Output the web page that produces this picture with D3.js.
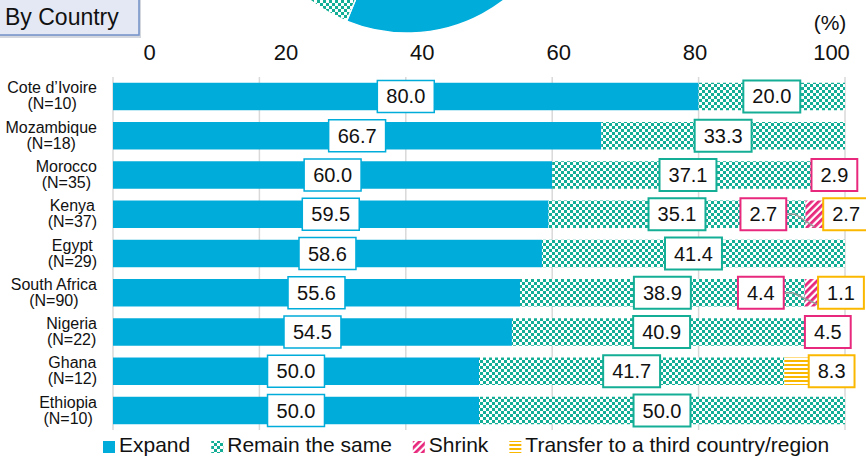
<!DOCTYPE html>
<html>
<head>
<meta charset="utf-8">
<script src="https://cdn.jsdelivr.net/npm/d3@7"></script>
<style>
    body { margin: 0; background: #fff; }
    svg { display: block; font-family: "Liberation Sans", Arial, sans-serif; }
</style>
</head>
<body>
<svg id="chart" width="866" height="457"></svg>
<script>
const countries = ["Cote d’Ivoire", "Mozambique", "Morocco", "Kenya", "Egypt", "South Africa", "Nigeria", "Ghana", "Ethiopia"];
const sampleSizes = [10, 18, 35, 37, 29, 90, 22, 12, 10];
const expand   = [80.0, 66.7, 60.0, 59.5, 58.6, 55.6, 54.5, 50.0, 50.0];
const remain   = [20.0, 33.3, 37.1, 35.1, 41.4, 38.9, 40.9, 41.7, 50.0];
const shrink   = [0, 0, 2.9, 2.7, 0, 4.4, 4.5, 0, 0];
const transfer = [0, 0, 0, 2.7, 0, 1.1, 0, 8.3, 0];
const seriesNames = ["Expand", "Remain the same", "Shrink", "Transfer to a third country/region"];
const xTicks = [0, 20, 40, 60, 80, 100];
// overall pie shown cut off at the top of the picture
const overall = [56.2, 39.0, 3.1, 1.7];

const BLUE = '#00acda';
const TEAL = '#14ad95';
const PINK = '#e8287c';
const ORANGE = '#fbb800';

const width = 866, height = 457;
const svg = d3.select('#chart');
const defs = svg.append('defs');

// patterns
const checker = defs.append('pattern').attr('id', 'checker')
    .attr('patternUnits', 'userSpaceOnUse').attr('width', 6).attr('height', 6);
checker.append('rect').attr('width', 6).attr('height', 6).attr('fill', '#fff');
checker.append('rect').attr('width', 3).attr('height', 3).attr('fill', TEAL);
checker.append('rect').attr('x', 3).attr('y', 3).attr('width', 3).attr('height', 3).attr('fill', TEAL);

const diag = defs.append('pattern').attr('id', 'diag')
    .attr('patternUnits', 'userSpaceOnUse').attr('width', 5).attr('height', 5)
    .attr('patternTransform', 'rotate(45)');
diag.append('rect').attr('width', 5).attr('height', 5).attr('fill', '#fff');
diag.append('rect').attr('width', 2.8).attr('height', 5).attr('fill', PINK);

const hline = defs.append('pattern').attr('id', 'hline')
    .attr('patternUnits', 'userSpaceOnUse').attr('width', 4).attr('height', 4);
hline.append('rect').attr('width', 4).attr('height', 4).attr('fill', '#fff');
hline.append('rect').attr('width', 4).attr('height', 2).attr('fill', ORANGE);

const keys = ['expand', 'remain', 'shrink', 'transfer'];
const fills = [BLUE, 'url(#checker)', 'url(#diag)', 'url(#hline)'];
const borders = [BLUE, TEAL, PINK, ORANGE];

// pie remnant
const pieData = d3.pie().sort(null).value(d => d)(overall);
const arc = d3.arc().innerRadius(0).outerRadius(159);
svg.append('g')
    .attr('transform', 'translate(407,-126)')
    .selectAll('path')
    .data(pieData)
    .enter()
    .append('path')
    .attr('d', arc)
    .attr('fill', (d, i) => fills[i])
    .attr('stroke', '#fff')
    .attr('stroke-width', 1.5);

// title box
svg.append('rect')
    .attr('x', -4).attr('y', -4).attr('width', 145).attr('height', 42)
    .attr('fill', '#b8bcc8').attr('opacity', 0.6);
svg.append('rect')
    .attr('x', -4).attr('y', -4).attr('width', 143).attr('height', 39)
    .attr('fill', '#e4e8f5').attr('stroke', '#7090c8').attr('stroke-width', 1.5);
svg.append('text')
    .attr('x', 5).attr('y', 25)
    .style('font-size', '23px').attr('fill', '#111')
    .text('By Country');

// scales
const xScale = d3.scaleLinear().domain([0, 100]).range([113, 845]);
const tickScale = d3.scaleLinear().domain([0, 100]).range([149, 831]);
const yScale = d3.scaleBand().domain(countries).range([77.5, 429.5])
    .paddingInner(0.3).paddingOuter(0.134);

// grid lines
svg.append('g').selectAll('line')
    .data(xTicks)
    .enter()
    .append('line')
    .attr('x1', d => xScale(d)).attr('x2', d => xScale(d))
    .attr('y1', 77).attr('y2', 430)
    .attr('stroke', '#d9d9d9').attr('stroke-width', 1.5);

// top tick labels
const axis = svg.append('g')
    .attr('transform', 'translate(0,60)')
    .call(d3.axisTop(tickScale).tickValues(xTicks).tickSize(0).tickPadding(0).tickFormat(d3.format('d')));
axis.select('.domain').remove();
axis.selectAll('text')
    .style('font-size', '22px')
    .style('font-family', '"Liberation Sans", Arial, sans-serif')
    .attr('fill', '#111');

svg.append('text')
    .attr('x', 830).attr('y', 30)
    .attr('text-anchor', 'middle')
    .style('font-size', '21px').attr('fill', '#111')
    .text('(%)');

// stacked bars
const table = countries.map((c, i) => ({
    country: c, expand: expand[i], remain: remain[i], shrink: shrink[i], transfer: transfer[i]
}));
const stacked = d3.stack().keys(keys)(table);

const barGroup = svg.append('g');
stacked.forEach((layer, k) => {
    barGroup.selectAll(`.bar-${k}`)
        .data(layer.filter(d => d[1] - d[0] > 0))
        .enter()
        .append('rect')
        .attr('x', d => xScale(d[0]))
        .attr('width', d => xScale(d[1]) - xScale(d[0]))
        .attr('y', d => yScale(d.data.country))
        .attr('height', yScale.bandwidth())
        .attr('fill', fills[k]);
});

// label nudges (pixels) for crowded small segments
const nudges = {
    'Kenya|shrink': { dx: -52, leader: true },
    'South Africa|shrink': { dx: -60, leader: true },
    'Kenya|transfer': { dx: 11 },
    'Ghana|transfer': { dx: 17 }
};

const labelGroup = svg.append('g');
stacked.forEach((layer, k) => {
    layer.forEach(d => {
        const v = d[1] - d[0];
        if (v <= 0) return;
        const key = `${d.data.country}|${keys[k]}`;
        const nudge = nudges[key] || { dx: 0 };
        const cy = yScale(d.data.country) + yScale.bandwidth() / 2;
        const segX = xScale((d[0] + d[1]) / 2);
        const cx = segX + nudge.dx;

        const g = labelGroup.append('g');
        const txt = g.append('text')
            .attr('x', cx).attr('y', cy + 7)
            .attr('text-anchor', 'middle')
            .style('font-size', '20px')
            .attr('fill', '#111')
            .text(v.toFixed(1));
        const w = txt.node().getComputedTextLength() + 18;
        g.insert('rect', 'text')
            .attr('x', cx - w / 2).attr('y', cy - 16)
            .attr('width', w).attr('height', 32)
            .attr('fill', '#fff')
            .attr('stroke', borders[k])
            .attr('stroke-width', k === 0 ? 1.5 : 2);

        if (nudge.leader) {
            const barBottom = yScale(d.data.country) + yScale.bandwidth();
            labelGroup.insert('path', ':first-child')
                .attr('d', d3.line()([
                    [cx + w / 2, cy],
                    [cx + w / 2 + 9, cy],
                    [segX - 1, barBottom - 1]
                ]))
                .attr('fill', 'none')
                .attr('stroke', '#9a9a9a')
                .attr('stroke-width', 1.5);
        }
    });
});

// row labels
const rowLabels = svg.append('g');
countries.forEach((c, i) => {
    const cy = yScale(c) + yScale.bandwidth() / 2;
    const g = rowLabels.append('g');
    const t1 = g.append('text')
        .attr('x', 0).attr('y', cy - 3)
        .attr('text-anchor', 'middle')
        .style('font-size', '16px').attr('fill', '#111')
        .text(c);
    const t2 = g.append('text')
        .attr('x', 0).attr('y', cy + 13)
        .attr('text-anchor', 'middle')
        .style('font-size', '16px').attr('fill', '#111')
        .text(`(N=${sampleSizes[i]})`);
    const maxW = Math.max(t1.node().getComputedTextLength(), t2.node().getComputedTextLength());
    g.attr('transform', `translate(${97 - maxW / 2},0)`);
});

// legend
const legend = svg.append('g').attr('transform', 'translate(103,452)');
let lx = 0;
seriesNames.forEach((name, i) => {
    legend.append('rect')
        .attr('x', lx).attr('y', -11)
        .attr('width', 12).attr('height', 12)
        .attr('fill', fills[i]);
    const t = legend.append('text')
        .attr('x', lx + 16).attr('y', 0)
        .style('font-size', '21px').attr('fill', '#111')
        .text(name);
    lx += 16 + t.node().getComputedTextLength() + 21;
});
</script>
</body>
</html>
